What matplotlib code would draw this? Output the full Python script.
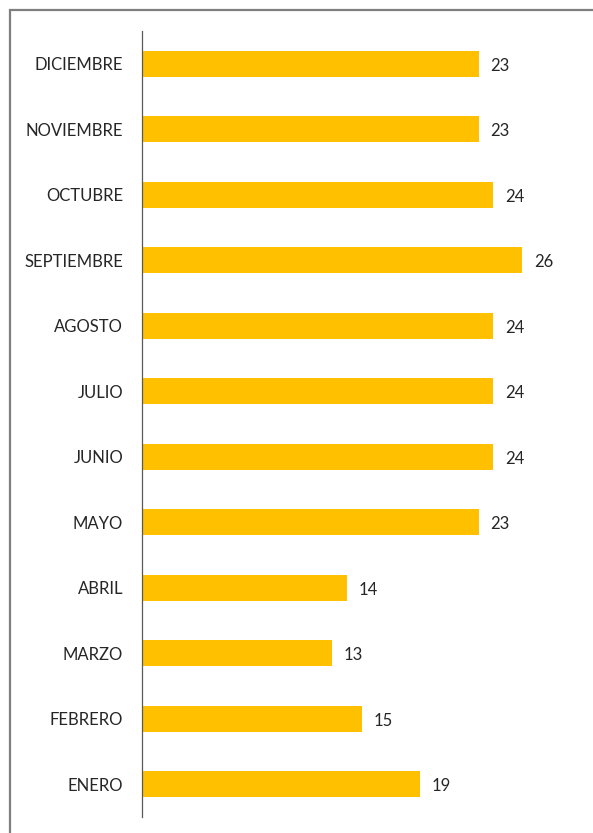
import matplotlib
matplotlib.use("Agg")
import matplotlib.pyplot as plt
import matplotlib.patches as patches

# meses (de abajo hacia arriba) y valores
meses = ["ENERO", "FEBRERO", "MARZO", "ABRIL", "MAYO", "JUNIO",
         "JULIO", "AGOSTO", "SEPTIEMBRE", "OCTUBRE", "NOVIEMBRE", "DICIEMBRE"]
valores = [19, 15, 13, 14, 23, 24, 24, 24, 26, 24, 23, 23]

plt.rcParams['font.family'] = ['Lato', 'DejaVu Sans']

fig = plt.figure(figsize=(5.93, 8.33), dpi=100)
fig.patch.set_facecolor('white')

# marco gris alrededor del grafico
marco = patches.Rectangle((9.5 / 593, -0.1), 1.2, 1 - 9.5 / 833 + 0.1,
                          transform=fig.transFigure, fill=False,
                          edgecolor='#7f7f7f', linewidth=1.6)
fig.patches.append(marco)

ax = fig.add_axes([142 / 593, 1 - 817 / 833, (581 - 142) / 593, (817 - 31) / 833])

pos = list(range(len(meses)))
barras = ax.barh(pos, valores, height=0.4, color='#FFC000')

# etiquetas de valor
for p, v in zip(pos, valores):
    ax.text(v + 0.8, p - 0.03, str(v), va='center', ha='left', fontsize=12, color='#262626')

ax.set_yticks(pos)
ax.set_yticklabels(meses, fontsize=12, color='#262626')
ax.set_ylim(-0.5, len(meses) - 0.5)
ax.set_xlim(0, 30)

ax.tick_params(axis='y', length=0, pad=13.5)
ax.tick_params(axis='x', bottom=False, labelbottom=False)
for s in ['top', 'right', 'bottom']:
    ax.spines[s].set_visible(False)
ax.spines['left'].set_color('#595959')
ax.spines['left'].set_linewidth(0.9)

fig.savefig("out.png", dpi=100)
